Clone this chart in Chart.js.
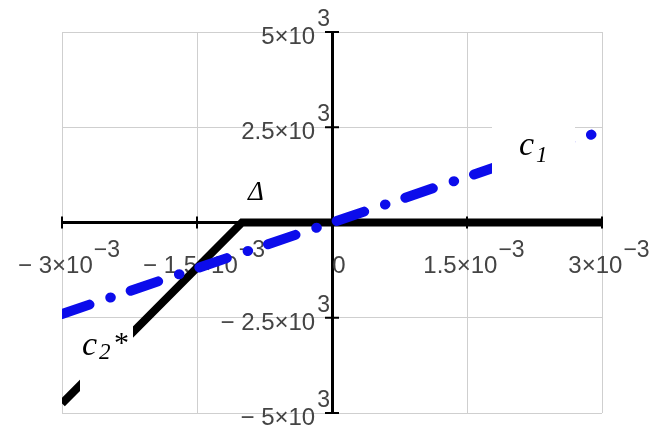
<!DOCTYPE html>
<html>
<head>
<meta charset="utf-8">
<title>c1 / c2*</title>
<script src="https://cdn.jsdelivr.net/npm/chart.js@4/dist/chart.umd.min.js"></script>
<style>
  html, body { margin: 0; padding: 0; background: #fff; }
  #wrap { width: 652px; height: 428px; position: relative; }
</style>
</head>
<body>
<div id="wrap"><canvas id="plot"></canvas></div>
<script>
/* ── data ───────────────────────────────────────────────────────────── */
const c1X  = [-0.003, 0.003];
const c1Y  = [-2400, 2400];
const c2X  = [-0.003, -0.001, 0.003];
const c2Y  = [-4750, 0, 0];

const xTicks   = [-0.003, -0.0015, 0, 0.0015, 0.003];
const xMant    = ['\u2212 3\u00d710', '\u2212 1.5\u00d710', '0', '1.5\u00d710', '3\u00d710'];
const xExp     = ['\u22123', '\u22123', '', '\u22123', '\u22123'];
const yTicks   = [-5000, -2500, 0, 2500, 5000];
const yMant    = ['\u2212 5\u00d710', '\u2212 2.5\u00d710', '', '2.5\u00d710', '5\u00d710'];
const yExp     = ['3', '3', '', '3', '3'];

const toPts = (xs, ys) => xs.map((x, i) => ({ x, y: ys[i] }));

/* ── tick labels in mantissa × 10^exp form, drawn under the curves ─── */
const tickText = {
  id: 'tickText',
  beforeDatasetsDraw(chart) {
    const { ctx, scales: { x, y } } = chart;
    const x0 = x.getPixelForValue(0), y0 = y.getPixelForValue(0);
    ctx.save();
    ctx.fillStyle = '#444';
    ctx.textBaseline = 'alphabetic';
    ctx.textAlign = 'left';

    // x axis: centred a little right of each tick, well below the axis
    xTicks.forEach((v, i) => {
      const px = x.getPixelForValue(v);
      ctx.font = '24px "Liberation Sans", Arial, sans-serif';
      const w1 = ctx.measureText(xMant[i]).width;
      ctx.font = '23px "Liberation Sans", Arial, sans-serif';
      const w2 = xExp[i] ? ctx.measureText(xExp[i]).width + 1 : 0;
      const left = px + 7 - (w1 + w2) / 2;
      ctx.font = '24px "Liberation Sans", Arial, sans-serif';
      ctx.fillText(xMant[i], left, y0 + 50);
      if (xExp[i]) {
        ctx.font = '23px "Liberation Sans", Arial, sans-serif';
        ctx.fillText(xExp[i], left + w1 + 1, y0 + 34);
      }
    });

    // y axis: right aligned against the vertical axis
    yTicks.forEach((v, i) => {
      if (!yMant[i]) return;
      const py = y.getPixelForValue(v);
      ctx.font = '23px "Liberation Sans", Arial, sans-serif';
      const w2 = ctx.measureText(yExp[i]).width;
      const expLeft = x0 - 2 - w2;
      ctx.fillText(yExp[i], expLeft, py - 6);
      ctx.font = '24px "Liberation Sans", Arial, sans-serif';
      const w1 = ctx.measureText(yMant[i]).width;
      ctx.fillText(yMant[i], expLeft - 2 - w1, py + 12);
    });

    // small crossing tick marks on both axes
    ctx.strokeStyle = '#000';
    ctx.lineWidth = 2;
    ctx.beginPath();
    xTicks.forEach(v => {
      const px = x.getPixelForValue(v);
      ctx.moveTo(px, y0 - 6); ctx.lineTo(px, y0 + 6);
    });
    yTicks.forEach(v => {
      const py = y.getPixelForValue(v);
      ctx.moveTo(x0 - 7, py); ctx.lineTo(x0 + 7, py);
    });
    ctx.stroke();
    ctx.restore();
  }
};

/* ── curve names on white patches, drawn over everything ───────────── */
const curveNames = {
  id: 'curveNames',
  afterDatasetsDraw(chart) {
    const { ctx } = chart;
    ctx.save();
    ctx.fillStyle = '#fff';
    ctx.fillRect(492, 120, 83, 65);
    ctx.fillRect(80, 318, 53, 82);
    ctx.fillRect(243, 160, 47, 55);

    ctx.fillStyle = '#000';
    ctx.textAlign = 'left';
    ctx.textBaseline = 'alphabetic';
    ctx.font = 'italic 34px "Liberation Serif", "Times New Roman", serif';
    ctx.fillText('c', 519, 155);
    ctx.fillText('c', 82, 355);
    ctx.font = 'italic 23px "Liberation Serif", "Times New Roman", serif';
    ctx.fillText('1', 536, 162);
    ctx.fillText('2', 99, 359);
    ctx.font = '30px "Liberation Serif", "Times New Roman", serif';
    ctx.fillText('*', 114, 352);
    ctx.font = 'italic 27px "Liberation Serif", "Times New Roman", serif';
    ctx.fillText('\u0394', 248, 200);
    ctx.restore();
  }
};

new Chart(document.getElementById('plot'), {
  type: 'scatter',
  data: {
    datasets: [
      {
        label: 'c1',
        data: toPts(c1X, c1Y),
        showLine: true,
        borderColor: '#0c0ceb',
        borderWidth: 10,
        borderDash: [29, 22, 0.5, 21],
        borderCapStyle: 'round',
        pointRadius: 0,
        order: 0
      },
      {
        label: 'c2*',
        data: toPts(c2X, c2Y),
        showLine: true,
        borderColor: '#000',
        borderWidth: 8,
        borderJoinStyle: 'miter',
        borderCapStyle: 'butt',
        pointRadius: 0,
        order: 1
      }
    ]
  },
  options: {
    responsive: true,
    maintainAspectRatio: false,
    animation: false,
    layout: { padding: { left: 62, right: 50, top: 32, bottom: 15 } },
    plugins: { legend: { display: false }, tooltip: { enabled: false } },
    scales: {
      x: {
        type: 'linear',
        position: { y: 0 },
        min: -0.003, max: 0.003,
        afterBuildTicks: s => { s.ticks = xTicks.map(v => ({ value: v })); },
        ticks: { display: false },
        grid: { color: '#cfcfcf', lineWidth: 1, drawTicks: false },
        border: { color: '#000', width: 3 }
      },
      y: {
        type: 'linear',
        position: { x: 0 },
        min: -5000, max: 5000,
        afterBuildTicks: s => { s.ticks = yTicks.map(v => ({ value: v })); },
        ticks: { display: false },
        grid: { color: '#cfcfcf', lineWidth: 1, drawTicks: false },
        border: { color: '#000', width: 3 }
      }
    }
  },
  plugins: [tickText, curveNames]
});
</script>
</body>
</html>
